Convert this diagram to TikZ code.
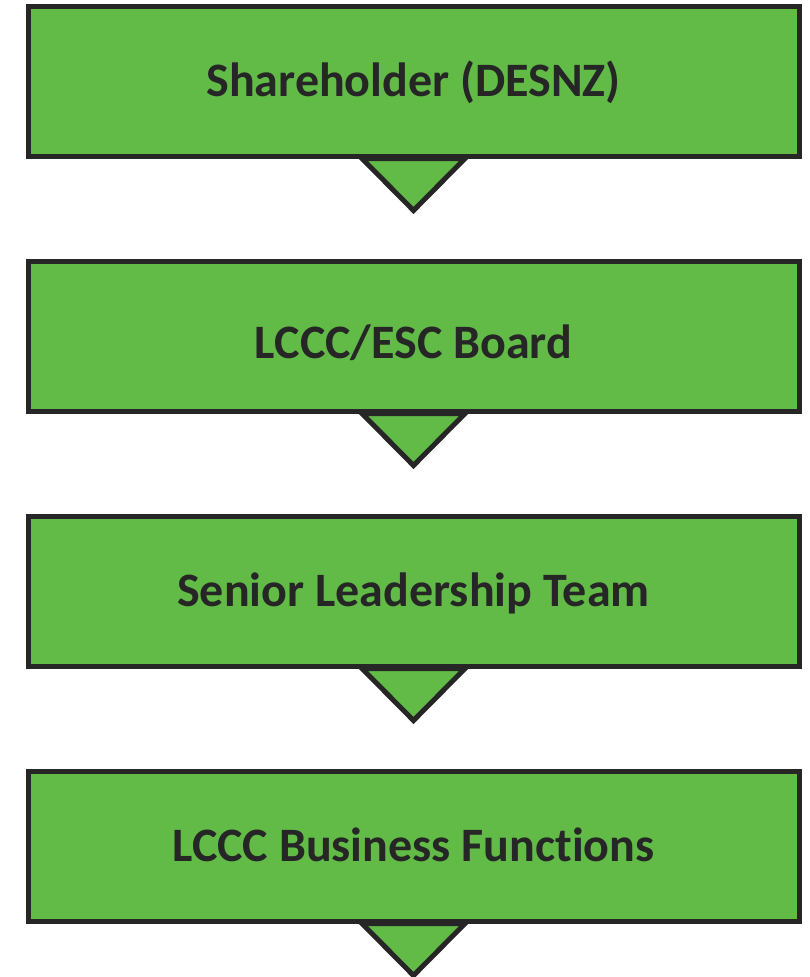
\documentclass[tikz,border=0pt]{standalone}
\usepackage{fontspec}
\setmainfont{Carlito}[Ligatures=NoCommon]
\definecolor{boxgreen}{HTML}{62BB47}
\definecolor{edge}{HTML}{262626}
\pgfdeclarelayer{bg}
\pgfsetlayers{bg,main}
\begin{document}
\begin{tikzpicture}[x=1pt,y=-1pt,
  stage/.style={draw=edge,fill=boxgreen,line width=5pt,rectangle,
    minimum width=771pt,minimum height=150pt,inner sep=0pt,
    text height=31pt,text depth=1pt,
    font=\fontsize{48}{56}\selectfont\bfseries,text=edge},
  tri/.style={draw=edge,fill=boxgreen,line width=5pt,line join=miter}]
\useasboundingbox (0,0) rectangle (810,977);
\node[stage] (b1) at (413.5,81) {Shareholder (DESNZ)};
\node[stage] (b2) at (413.5,336) {\raisebox{-7pt}[31pt][1pt]{LCCC/ESC Board}};
\node[stage] (b3) at (413.5,591) {Senior Leadership Team};
\node[stage] (b4) at (413.5,846) {LCCC Business Functions};
\begin{pgfonlayer}{bg}
\foreach \b in {b1,b2,b3,b4}{
  \draw[tri] ([xshift=-51.5pt]\b.south) -- ([yshift=-52pt]\b.south) -- ([xshift=51.5pt]\b.south) -- cycle;
}
\end{pgfonlayer}
\end{tikzpicture}
\end{document}
